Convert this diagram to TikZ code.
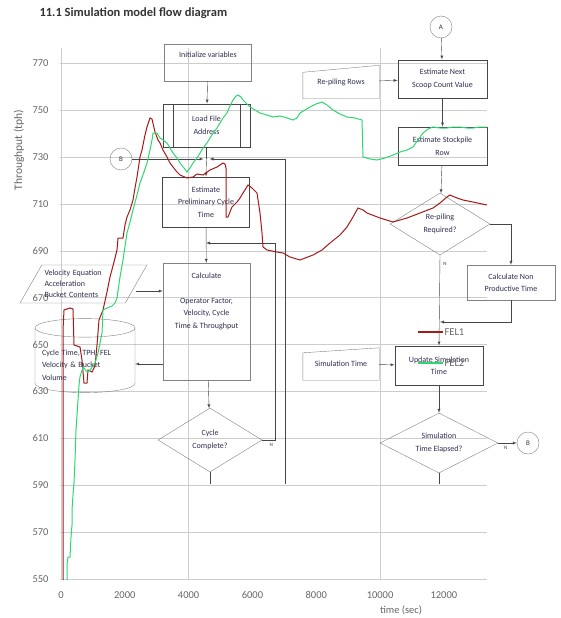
\documentclass[tikz,border=0pt]{standalone}
\usepackage{fontspec}
\setmainfont{Carlito}
\usetikzlibrary{shapes.geometric,arrows,calc,positioning}

\definecolor{boxgray}{RGB}{130,130,130}
\definecolor{boxdark}{RGB}{70,70,70}
\definecolor{gridgray}{RGB}{205,205,205}
\definecolor{felred}{RGB}{165,25,25}
\definecolor{felgreen}{RGB}{45,215,110}
\definecolor{ink}{RGB}{45,45,80}
\newcommand{\flowfont}{\fontsize{8}{12.5}\selectfont}
\newcommand{\axisfont}{\fontsize{10.5}{12}\selectfont}
\newcommand{\titlefont}{\fontsize{12.5}{14}\selectfont\bfseries}

\begin{document}
\begin{tikzpicture}[x=1pt, y=-1pt,
box/.style={rectangle,draw=boxgray,thin,align=center,font=\flowfont,text=ink,minimum width=87pt},
boxd/.style={box,draw=boxdark,line width=0.9pt},
dec/.style={diamond,draw=boxgray,thin,align=center,font=\flowfont,text=ink,inner sep=0pt,aspect=1.6},
conn/.style={circle,draw=boxgray,thin,minimum size=22pt,inner sep=0pt,font=\scriptsize,text=ink},
flow/.style={draw=boxdark,thin,-latex},
lbl/.style={font=\axisfont,text=black!60}]
\useasboundingbox (0,0) rectangle (560,618);

\node[anchor=west,font=\titlefont,text=black!80] (title) at (36,13) {11.1 Simulation model flow diagram};

%chart grid
\foreach \v in {550,570,...,770}
{\draw[gridgray] (60,{579-(\v-550)*2.345}) -- (487,{579-(\v-550)*2.345});
 \node[lbl,anchor=east] (y\v) at (52,{579-(\v-550)*2.345}) {\v};}
\foreach \t in {0,4000,10000}
{\draw[gridgray] ({61+\t*0.0319},48) -- ({61+\t*0.0319},580);}
\foreach \t in {0,2000,...,12000}
{\node[lbl] (x\t) at ({61+\t*0.0319},595) {\t};}
\node[lbl] (xtitle) at (401,610) {time (sec)};
\node[lbl,rotate=90,font=\fontsize{11.5}{13}\selectfont] (ytitle) at (19,150) {Throughput (tph)};

%left column
\node[box,minimum height=37pt] (init) at (208,62.5) {Initialize variables\\[4pt]\mbox{}};
\node[boxd,minimum height=43pt] (load) at (206.5,125.5) {Load File\\Address};
\draw[boxdark] ([xshift=11pt]load.north west) -- ([xshift=11pt]load.south west);
\draw[boxdark] ([xshift=-10pt]load.north east) -- ([xshift=-10pt]load.south east);
\node[conn] (b1) at (121,159) {B};
\node[boxd,minimum height=50pt] (prelim) at (206,202) {Estimate\\Preliminary Cycle\\Time};
\node[box,minimum height=117pt] (calc) at (206.5,321.5) {Calculate\\ \\Operator Factor,\\Velocity, Cycle\\Time \& Throughput\\[30pt]\mbox{}};
\node[trapezium,trapezium left angle=55,trapezium right angle=125,trapezium stretches=true,
  draw=boxgray,thin,minimum width=127pt,minimum height=38pt,align=left,font=\flowfont,text=ink,
  text width=78pt,inner sep=1pt] (vel) at (83.5,284) {Velocity Equation\\[-1.5pt]Acceleration\\[-1.5pt]Bucket Contents};
\node[cylinder,shape border rotate=90,aspect=0.2,draw=boxgray,thin,minimum width=100pt,
  minimum height=74pt,align=left,font=\flowfont,text=ink,text width=86pt] (store) at (85,362)
  {\rule{0pt}{12pt}Cycle Time, TPH, FEL\\Velocity \& Bucket\\Volume};
\node[dec,minimum width=104pt,minimum height=64pt] (cyc) at (210,440) {Cycle\\Complete?};

\coordinate (jB) at (load.south |- b1);
\coordinate (jN) at (prelim.south |- 0,243);
\coordinate (cut1) at (cyc.south |- 0,484);
\coordinate (cut2) at (285,484);

\draw[flow] (init) -- (load);
\draw[thin,boxdark] (load.south) -- (jB);
\draw[flow] (b1) -- ([xshift=-3pt]jB);
\draw[flow] (cut2) |- ([xshift=3pt]jB);
\draw[flow] (jB) -- (prelim.north);
\draw[flow] (prelim) -- (calc);
\draw[flow] (cyc.east) -- ++(13,0) node[pos=0.7,below,font=\tiny,text=ink] {N} |- (jN);
\draw[flow] (vel.east |- 0,291) -- (calc.west |- 0,291);
\draw[flow] (calc.west |- 0,364) -- (store.east |- 0,364);
\draw[flow] (calc) -- (cyc);
\draw[thin,boxdark] (cyc.south) -- (cut1);

%right column
\node[conn] (a1) at (441,27) {A};
\node[boxd,minimum width=89pt,minimum height=38pt] (next) at (442.5,79) {Estimate Next\\Scoop Count Value};
\node[box,draw=none,minimum width=76pt,minimum height=33pt] (rows) at (341,82) {Re-piling Rows};
\draw[boxgray,thin] (rows.south west) -- ([yshift=-7pt]rows.north west) -- (rows.north east) -- (rows.south east) -- cycle;
\node[boxd,minimum width=89pt,minimum height=38pt] (stock) at (442.5,146) {Estimate Stockpile\\Row};
\node[dec,minimum width=100pt,minimum height=62pt] (repile) at (440,224) {Re-piling\\Required?};
\node[box,minimum width=88pt,minimum height=35pt] (nonprod) at (511,282.5) {Calculate Non\\Productive Time};
\node[boxd,minimum width=88pt,minimum height=39pt] (update) at (439,365.5) {Update Simulation\\Time};
\node[box,draw=none,minimum width=76pt,minimum height=32pt] (simtime) at (341,364) {Simulation Time};
\draw[boxgray,thin] (simtime.south west) -- ([yshift=-5pt]simtime.north west) -- (simtime.north east) -- (simtime.south east) -- cycle;
\node[dec,minimum width=118pt,minimum height=60pt] (elapsed) at (439,443) {Simulation\\Time Elapsed?};
\node[conn] (b2) at (528,443) {B};

\coordinate (jR) at (repile.south |- 0,322);
\coordinate (cut3) at (elapsed.south |- 0,484);

\draw[flow] (a1) -- (next);
\draw[flow] (rows) -- (next);
\draw[flow] (next) -- (stock);
\draw[flow] (stock) -- (repile);
\draw[flow] (repile.east) -| (nonprod.north);
\draw[flow] (nonprod.south) |- (jR);
\draw[flow] (repile.south) -- node[pos=0.1,right,font=\tiny,text=ink] {N} (update.north);
\draw[flow] (simtime) -- (update);
\draw[flow] (update) -- (elapsed);
\draw[flow] (elapsed) -- node[pos=0.4,below,font=\tiny,text=ink] {N} (b2);
\draw[thin,boxdark] (elapsed.south) -- (cut3);

%series
\draw[felred,line width=1pt] plot coordinates {(63,580) (63,330) (64,310) (70,308) (73,309) (74,345) (80,347) (82,360) (84,383) (87,383) (88,370) (92,372) (95,366) (97,345) (99,320) (103,310) (107,292) (110,277) (114,262) (117,250) (118,238) (123,238) (125,225) (127,217) (130,210) (133,200) (135,188) (137,177) (140,157) (142,150) (145,135) (147,127) (150,118) (152,119) (155,132) (158,140) (160,143) (163,150) (167,157) (170,163) (173,167) (177,172) (180,175) (187,178) (193,177) (197,174) (203,175) (210,170) (217,167) (223,163) (225,164) (226,168) (226,217) (228,217) (232,207) (237,202) (240,198) (243,193) (248,185) (252,188) (257,193) (260,213) (262,233) (263,247) (267,250) (277,252) (283,253) (290,257) (300,260) (313,255) (322,250) (330,243) (340,235) (347,227) (353,217) (358,208) (363,210) (367,213) (380,218) (393,222) (407,218) (420,213) (433,208) (440,203) (447,197) (450,195) (457,198) (463,200) (473,202) (487,205)};
\draw[felgreen,line width=1pt] plot coordinates {(67,580) (67,565) (68,557) (70,557) (71,537) (72,525) (72,510) (73,495) (74,483) (75,460) (76,430) (78,400) (79,385) (80,377) (83,367) (87,372) (90,370) (93,366) (95,363) (98,353) (100,343) (102,333) (103,310) (107,308) (112,306) (115,303) (117,298) (120,277) (123,260) (127,233) (130,222) (133,210) (137,195) (140,183) (144,172) (147,163) (150,150) (152,140) (153,133) (157,133) (160,138) (163,140) (167,143) (170,148) (173,153) (177,158) (180,163) (184,168) (187,172) (190,168) (193,163) (197,158) (200,153) (203,148) (207,143) (210,138) (213,133) (217,128) (220,123) (223,118) (227,113) (230,106) (233,100) (236,96) (238,95) (241,97) (243,100) (247,104) (250,107) (255,110) (260,113) (267,115) (273,117) (280,116) (287,118) (293,120) (297,118) (300,113) (305,110) (310,107) (316,104) (322,102) (327,105) (333,110) (340,114) (347,117) (355,118) (362,120) (363,157) (370,159) (377,160) (385,158) (393,155) (400,152) (407,150) (413,147) (418,140) (423,133) (428,129) (433,127) (440,128) (447,128) (453,127) (460,127) (467,128) (473,128) (480,127) (487,127)};

%legend
\draw[felred,line width=1.2pt] (418,332) -- (443,332) node[right,lbl,inner sep=1pt] (fel1) {FEL1};
\draw[felgreen,line width=1.2pt] (418,363) -- (443,363) node[right,lbl,inner sep=1pt] (fel2) {FEL2};
\end{tikzpicture}
\end{document}
